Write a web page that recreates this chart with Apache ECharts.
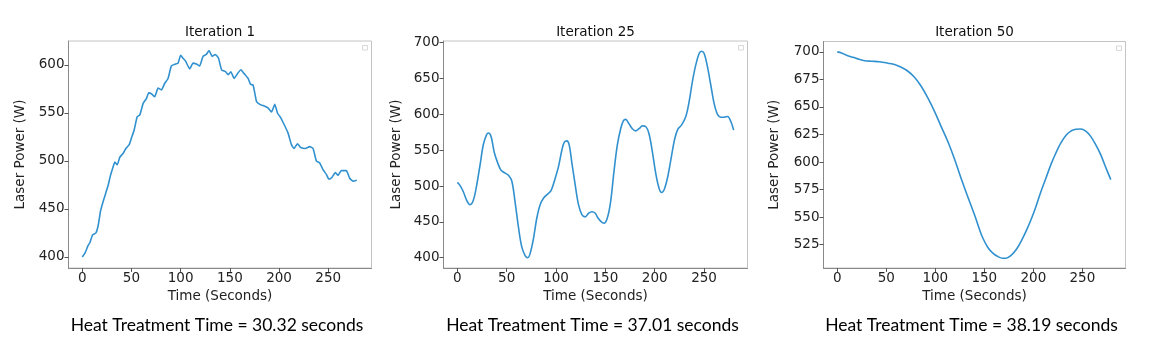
<!DOCTYPE html>
<html>
<head>
<meta charset="utf-8">
<script src="https://cdn.jsdelivr.net/npm/echarts@6/dist/echarts.min.js"></script>
<style>
html,body{margin:0;padding:0;background:#fff;}
#chart{width:1162px;height:337px;}
</style>
</head>
<body>
<div id="chart"></div>
<script>
// ---- Data ----
const titles = ['Iteration 1', 'Iteration 25', 'Iteration 50'];
const captions = [
  'Heat Treatment Time = 30.32 seconds',
  'Heat Treatment Time = 37.01 seconds',
  'Heat Treatment Time = 38.19 seconds'
];
const xLabel = 'Time (Seconds)';
const yLabel = 'Laser Power (W)';
const xTicks = [0, 50, 100, 150, 200, 250];
const yTicks1 = [400, 450, 500, 550, 600];
const yTicks2 = [400, 450, 500, 550, 600, 650, 700];
const yTicks3 = [525, 550, 575, 600, 625, 650, 675, 700];

const t1 = [0, 2.7, 6, 7.8, 10.5, 13.9, 16.2, 18.6, 21.3, 24, 26.4, 28.7, 31.4, 33.1, 35.5, 38.2, 41.6, 44.3, 47.7, 50,
  52.7, 55.8, 58.5, 61.9, 65.2, 67.6, 70.3, 73.7, 77, 80.5, 83.8, 87.2, 90.6, 95, 97.4, 100, 102.4, 105, 109.2, 112.6,
  116, 119.3, 122.7, 126.1, 128.8, 132.2, 135.2, 138.5, 141.6, 145.6, 148.4, 151, 154.4, 157.8, 161.2, 164.6, 168.6, 171, 173.7, 177.1,
  180.5, 185.6, 189, 192.3, 195.7, 198.4, 201.8, 205.2, 209.2, 212.6, 215.3, 218.7, 222.1, 226.8, 231.2, 234.6, 238, 241.4, 244.7, 248.1,
  250.8, 253.9, 257.3, 260, 263.3, 268.4, 271.8, 275.2, 279];
const p1 = [400, 404, 412, 415, 423, 425, 433, 448, 458, 467, 475, 485, 494, 499, 496, 504, 508, 513, 517, 524,
  532, 546, 548, 560, 565, 571, 570, 567, 576, 574, 581, 586, 599, 601, 602, 610, 607, 604, 596, 602,
  601, 599, 609, 611, 615, 609, 611, 607, 595, 593, 590, 593, 586, 591, 595, 591, 586, 580, 579, 562,
  559, 557, 555, 551, 559, 550, 545, 538, 529, 517, 513, 518, 514, 513, 515, 513, 500, 498, 491, 486,
  481, 483, 488, 485, 490, 490, 482, 479, 480];

const t2 = [0, 2.7, 6.1, 9.5, 12.9, 16.2, 19.6, 23, 26.4, 29.8, 31.5, 34.2, 37.6, 41, 44.3, 48.4, 51.8, 55.2, 58.5, 61.9,
  65.3, 68.7, 71.4, 73.8, 77.2, 80.5, 83.9, 87.3, 91.7, 95.1, 99.2, 102.5, 105.9, 108.3, 111, 113.4, 116.1, 119.5, 122.8, 126.2,
  129.6, 133, 136.4, 139.8, 141.8, 145.2, 148.5, 151.9, 155.3, 158.7, 162.1, 165.5, 168.2, 170.5, 173.9, 177.3, 180.7, 184.1, 187.5, 190.9,
  194.2, 197.6, 201, 204.4, 207.1, 210.1, 213.5, 216.9, 220.3, 223.7, 227.1, 231.5, 234.9, 238.2, 241.6, 245, 247.4, 250.1, 253.5, 256.8,
  260.2, 263.6, 267, 270.4, 273.8, 277.1, 280];
const p2 = [505, 501, 492, 480, 474, 480, 501, 529, 558, 572, 574, 569, 546, 532, 522, 518, 515, 507, 478, 443,
  415, 403, 400, 406, 427, 455, 474, 483, 489, 494, 511, 527, 550, 561, 563, 557, 532, 501, 474, 460,
  457, 462, 464, 462, 457, 451, 448, 455, 478, 520, 557, 580, 591, 593, 587, 580, 577, 580, 584, 583,
  573, 548, 518, 497, 491, 497, 515, 541, 566, 580, 585, 597, 618, 646, 669, 685, 688, 685, 666, 641,
  615, 600, 596, 596, 597, 590, 578];

const t3 = [0, 4.4, 9.5, 16.2, 23, 28.1, 34.9, 43.3, 51.8, 58.5, 65.3, 72.1, 78.8, 85.6, 92.4, 99.2, 105.9, 112.7, 119.5, 126.2,
  133, 138.4, 141.8, 145.2, 148.5, 153.6, 158.7, 163.8, 168.9, 172.2, 177.3, 182.4, 187.5, 192.5, 197.6, 202.7, 207.8, 212.9, 217.9, 223,
  228.1, 233.2, 238.2, 243.3, 248.4, 253.5, 258.5, 263.6, 268.7, 273.8, 279];
const p3 = [700, 699, 697, 695, 693, 692, 691.5, 691, 689.7, 688.5, 686, 682.4, 677, 668.8, 658.2, 646, 632.4, 618.8, 603, 585.5,
  568.8, 556, 547.6, 538.5, 531, 522.4, 517.3, 514.2, 512.7, 512.7, 515.2, 520.3, 528, 537, 547.6, 559.7, 573.3, 585.5, 597.6, 608.2,
  617.3, 624, 628, 629.7, 630, 628, 623.3, 615.8, 606.7, 595.2, 584];

// ---- Layout / style ----
const grids = [
  {left: 68.5, top: 41, width: 303, height: 227},
  {left: 443.5, top: 41, width: 304, height: 227},
  {left: 823.5, top: 41.5, width: 302, height: 226.5}
];
const yRanges = [[388.5, 625], [385.6, 702.4], [503.8, 709.4]];
const yTickSets = [yTicks1, yTicks2, yTicks3];
const series = [[t1, p1], [t2, p2], [t3, p3]];
const yNameGaps = [41, 40, 42];
const smoothness = [0.15, 0.35, 0.35];

const tickFont = {fontFamily: 'DejaVu Sans', fontSize: 13.5, color: '#222'};
const lineColor = '#3191cf';

const option = {
  animation: false,
  backgroundColor: '#fff',
  title: [],
  grid: [],
  xAxis: [],
  yAxis: [],
  series: [],
  graphic: []
};

grids.forEach((g, i) => {
  const cx = g.left + g.width / 2;
  option.grid.push(Object.assign({show: true, borderColor: '#c4c4c4', borderWidth: 1, backgroundColor: '#fff'}, g));
  option.title.push({
    text: titles[i], left: cx, top: 25.5, textAlign: 'center', padding: 0,
    textStyle: {fontFamily: 'DejaVu Sans', fontSize: 13.5, fontWeight: 'normal', color: '#111'}
  });
  option.title.push({
    text: captions[i], left: cx - 3, top: 316, textAlign: 'center', padding: 0,
    textStyle: {fontFamily: 'Lato', fontSize: 17.5, fontWeight: 'normal', color: '#000'}
  });
  option.xAxis.push({
    type: 'value', gridIndex: i, min: -14, max: 294,
    name: xLabel, nameLocation: 'middle', nameGap: 19,
    nameTextStyle: {fontFamily: 'DejaVu Sans', fontSize: 13.5, color: '#222'},
    axisLine: {show: true, onZero: false, lineStyle: {color: '#8a8a8a', width: 1}},
    axisTick: {show: true, length: 4, lineStyle: {color: '#555'}, customValues: xTicks},
    axisLabel: Object.assign({margin: 3, customValues: xTicks}, tickFont),
    splitLine: {show: false}
  });
  option.yAxis.push({
    type: 'value', gridIndex: i, min: yRanges[i][0], max: yRanges[i][1],
    name: yLabel, nameLocation: 'middle', nameGap: yNameGaps[i], nameRotate: 90,
    nameTextStyle: {fontFamily: 'DejaVu Sans', fontSize: 13.5, color: '#222'},
    axisLine: {show: true, onZero: false, lineStyle: {color: '#8a8a8a', width: 1}},
    axisTick: {show: true, length: 4, lineStyle: {color: '#555'}, customValues: yTickSets[i]},
    axisLabel: Object.assign({margin: 4, customValues: yTickSets[i]}, tickFont),
    splitLine: {show: false}
  });
  const [ts, ps] = series[i];
  option.series.push({
    type: 'line', xAxisIndex: i, yAxisIndex: i,
    data: ts.map((t, k) => [t, ps[k]]),
    showSymbol: false, smooth: smoothness[i],
    lineStyle: {color: lineColor, width: 1.6},
    itemStyle: {color: lineColor}
  });
  // empty matplotlib legend box (decoration)
  option.graphic.push({
    type: 'rect', silent: true,
    shape: {x: g.left + g.width - 9, y: g.top + 4.5, width: 5, height: 4.5},
    style: {fill: '#fff', stroke: '#d8d8d8', lineWidth: 1}
  });
});

const chart = echarts.init(document.getElementById('chart'), null, {renderer: 'canvas'});
chart.setOption(option);
</script>
</body>
</html>
